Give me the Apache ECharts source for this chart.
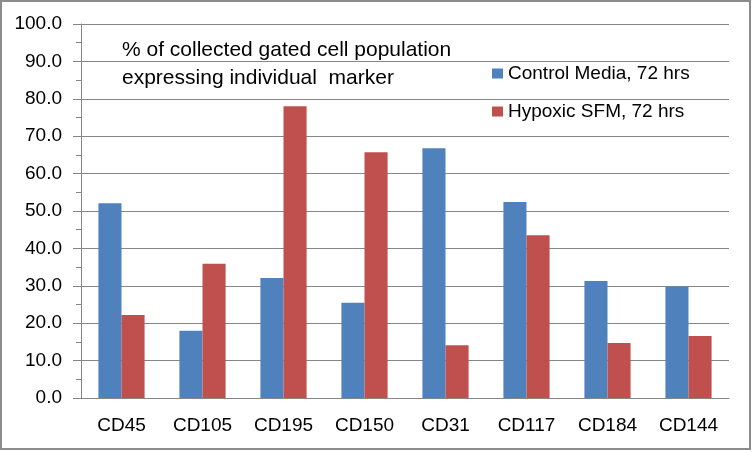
<!DOCTYPE html>
<html>
<head>
<meta charset="utf-8">
<script src="https://cdn.jsdelivr.net/npm/echarts@6/dist/echarts.min.js"></script>
<style>
  html, body { margin: 0; padding: 0; background: #fff; }
  #chart { width: 752px; height: 452px; }
</style>
</head>
<body>
<div id="chart"></div>
<script>
// markers on the x axis
const markers = ['CD45', 'CD105', 'CD195', 'CD150', 'CD31', 'CD117', 'CD184', 'CD144'];
const controlMedia = [52.1, 18.0, 32.1, 25.5, 66.8, 52.4, 31.3, 29.8];
const hypoxicSfm = [22.2, 35.9, 78.0, 65.7, 14.1, 43.5, 14.7, 16.6];
const seriesNames = ['Control Media, 72 hrs', 'Hypoxic SFM, 72 hrs'];
const titleLines = ['% of collected gated cell population', 'expressing individual  marker'];

const font = 'Liberation Sans, Arial, sans-serif';
const grey = '#868686';

const chart = echarts.init(document.getElementById('chart'));
chart.setOption({
    backgroundColor: '#fff',
    animation: false,
    color: ['#4F81BD', '#C0504D'],
    title: {
        text: titleLines.join('\n'),
        left: 117,
        top: 31,
        textStyle: {
            fontFamily: font,
            fontSize: 21,
            fontWeight: 'normal',
            color: '#000',
            lineHeight: 28
        }
    },
    legend: {
        orient: 'vertical',
        left: 487,
        top: 59,
        itemWidth: 11,
        itemHeight: 10,
        itemGap: 19,
        icon: 'rect',
        textStyle: {
            fontFamily: font,
            fontSize: 19,
            color: '#000'
        },
        data: seriesNames
    },
    grid: {
        left: 81,
        right: 23,
        top: 24,
        bottom: 54
    },
    xAxis: {
        type: 'category',
        data: markers,
        axisLine: { lineStyle: { color: grey } },
        axisTick: { length: 8, lineStyle: { color: grey } },
        axisLabel: {
            margin: 18,
            fontFamily: font,
            fontSize: 19,
            color: '#000'
        }
    },
    yAxis: {
        type: 'value',
        min: 0,
        max: 100,
        interval: 10,
        axisLine: { show: true, lineStyle: { color: grey } },
        axisTick: { show: true, length: 8, lineStyle: { color: grey } },
        minorTick: { show: true, splitNumber: 2, length: 5, lineStyle: { color: grey } },
        splitLine: { lineStyle: { color: grey, width: 1 } },
        axisLabel: {
            margin: 19,
            fontFamily: font,
            fontSize: 19,
            color: '#000',
            formatter: function (v) { return v.toFixed(1); }
        }
    },
    series: [
        {
            name: seriesNames[0],
            type: 'bar',
            barGap: '0%',
            barCategoryGap: '43%',
            data: controlMedia
        },
        {
            name: seriesNames[1],
            type: 'bar',
            barGap: '0%',
            barCategoryGap: '43%',
            data: hypoxicSfm
        }
    ],
    graphic: [{
        type: 'rect',
        shape: { x: 1, y: 1, width: 749, height: 448 },
        style: { fill: 'none', stroke: '#8c8c8c', lineWidth: 2 },
        silent: true
    }]
});
</script>
</body>
</html>
